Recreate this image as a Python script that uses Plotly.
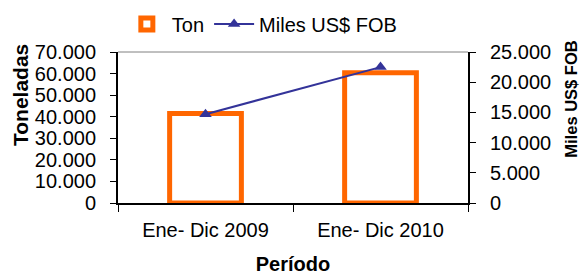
import plotly.graph_objects as go

categories = ["Ene- Dic 2009", "Ene- Dic 2010"]
ton = [41500, 60400]
miles_fob = [14700, 22500]

FONT = "Liberation Sans, Arial, sans-serif"

fig = go.Figure()
fig.add_trace(go.Bar(
    x=categories, y=ton, name="Ton",
    marker=dict(color="white", line=dict(color="#FF6600", width=5)),
    yaxis="y",
))
fig.add_trace(go.Scatter(
    x=categories, y=miles_fob, name="Miles US$ FOB", mode="lines+markers",
    line=dict(color="#333399", width=2),
    marker=dict(symbol="triangle-up", size=11, color="#333399"),
    yaxis="y2",
))

fig.update_layout(
    width=582, height=275,
    margin=dict(l=118, r=114, t=52, b=72, autoexpand=False),
    paper_bgcolor="white", plot_bgcolor="white",
    separators=",.",
    font=dict(family=FONT, size=20, color="black"),
    bargap=0.59,
    showlegend=True,
    legend=dict(orientation="h", x=0.011, y=1.185, xanchor="left", yanchor="middle",
                font=dict(size=20), bgcolor="rgba(0,0,0,0)", itemwidth=40,
                tracegroupgap=0),
    xaxis=dict(
        type="category", showline=True, linecolor="black", linewidth=2,
        ticks="outside", tickson="boundaries", ticklen=7, tickcolor="black",
        tickfont=dict(size=20), showgrid=False, ticklabelstandoff=8,
        title=dict(text="<b>Período</b>", font=dict(size=20), standoff=17),
    ),
    yaxis=dict(
        range=[0, 70000], dtick=10000, tickformat=",", showgrid=False,
        showline=True, linecolor="black", linewidth=2, ticks="outside",
        ticklen=6, tickcolor="black", zeroline=False, tickfont=dict(size=20),
        ticklabelstandoff=10,
    ),
    yaxis2=dict(
        range=[0, 25000], dtick=5000, tickformat=",", overlaying="y", side="right",
        showgrid=False, showline=True, linecolor="black", linewidth=2,
        ticks="outside", ticklen=6, tickcolor="black", zeroline=False,
        tickfont=dict(size=20), ticklabelstandoff=10,
    ),
    yaxis3=dict(
        range=[0, 70000], dtick=10000, overlaying="y", side="left", anchor="x",
        showgrid=False, showline=False, ticks="inside", ticklen=5,
        tickcolor="black", tickwidth=1, showticklabels=False, zeroline=False,
    ),
    yaxis4=dict(
        range=[0, 25000], dtick=5000, overlaying="y", side="right", anchor="x",
        showgrid=False, showline=False, ticks="inside", ticklen=5,
        tickcolor="black", tickwidth=1, showticklabels=False, zeroline=False,
    ),
    shapes=[dict(type="line", xref="paper", yref="paper", x0=0, x1=1, y0=1, y1=1,
                 line=dict(color="#808080", width=1))],
    annotations=[
        dict(text="<b>Toneladas</b>", xref="paper", yref="paper", x=-0.28, y=0.715,
             xanchor="center", yanchor="middle", textangle=-90, showarrow=False,
             font=dict(size=21)),
        dict(text="<b>Miles US$ FOB</b>", xref="paper", yref="paper", x=1.294, y=0.69,
             xanchor="center", yanchor="middle", textangle=-90, showarrow=False,
             font=dict(size=16.5)),
    ],
)

fig.write_html("out.html", config={"displayModeBar": False},
               post_script="document.body.style.margin='0';document.body.style.padding='0';")
